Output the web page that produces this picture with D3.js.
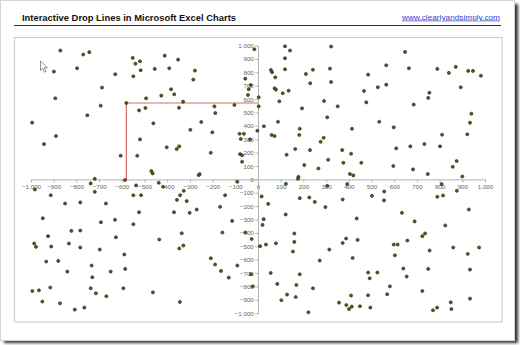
<!DOCTYPE html>
<html>
<head>
<meta charset="utf-8">
<script src="https://cdn.jsdelivr.net/npm/d3@7"></script>
<style>
  html, body { margin: 0; padding: 0; background: #fff; }
  svg { display: block; }
</style>
</head>
<body>
<svg id="chart" width="520" height="345"></svg>
<script>
// ---- text ----
const titleText = "Interactive Drop Lines in Microsoft Excel Charts";
const linkText = "www.clearlyandsimply.com";

// ---- axes ----
const axisMin = -1000;
const axisMax = 1000;
const tickValues = d3.range(-1000, 1001, 100);

// ---- scatter data [x, y] ----
const points = [
  // x < 0, y > 0
  [-871,963],[-770,933],[-743,951],[-552,908],[-540,865],[-520,883],[-797,831],[-899,806],
  [-629,786],[-549,771],[-517,816],[-687,686],[-893,606],[-693,551],[-580,571],[-524,516],
  [-752,479],[-995,424],[-890,324],[-943,264],[-520,299],[-605,177],[-532,177],[-719,4],
  [-411,925],[-352,895],[-455,826],[-391,831],[-278,813],[-285,746],[-383,674],[-369,636],
  [-426,626],[-493,606],[-330,581],[-496,534],[-348,536],[-192,546],[-188,496],[-104,556],
  [-461,419],[-250,429],[-298,371],[-201,352],[-81,341],[-62,341],[-76,302],[-3,364],
  [-402,240],[-358,227],[-347,247],[-208,199],[-79,189],[-70,180],[-70,132],[-470,62],
  [-464,45],[-261,32],[-257,40],[-16,973],[-56,753],[-41,674],[-32,706],[-44,631],[-35,299],
  // x > 0, y > 0
  [119,995],[322,993],[141,963],[119,906],[57,818],[62,801],[119,823],[211,788],
  [242,820],[317,828],[76,763],[230,719],[322,728],[485,783],[73,681],[79,671],
  [135,663],[109,644],[467,661],[528,689],[3,614],[94,584],[291,586],[477,576],
  [3,546],[194,531],[351,546],[305,464],[88,431],[26,397],[184,379],[414,379],
  [60,332],[73,324],[182,332],[289,311],[276,281],[164,227],[229,219],[371,219],
  [126,184],[410,192],[309,147],[376,124],[455,124],[204,107],[266,82],[405,40],
  [420,30],[178,19],[176,5],
  [648,953],[565,853],[665,831],[790,826],[871,841],[841,796],[926,811],[947,811],
  [982,775],[565,708],[893,689],[755,648],[750,609],[686,559],[940,491],[534,431],
  [934,424],[598,389],[811,334],[922,337],[609,232],[671,247],[733,264],[802,247],
  [596,100],[683,75],[748,40],[858,94],[875,137],[900,22],
  // x < 0, y < 0
  [-737,-30],[-586,-5],[-437,-25],[-91,-18],[-983,-75],[-913,-118],[-719,-93],[-537,-45],
  [-549,-118],[-515,-118],[-850,-180],[-783,-172],[-670,-180],[-524,-245],[-948,-290],[-692,-320],
  [-630,-302],[-549,-335],[-822,-385],[-783,-382],[-925,-424],[-626,-432],[-986,-479],[-978,-504],
  [-911,-502],[-833,-479],[-783,-509],[-697,-524],[-589,-561],[-933,-614],[-880,-609],[-733,-644],
  [-840,-689],[-649,-689],[-585,-669],[-730,-731],[-994,-834],[-965,-829],[-915,-808],[-737,-814],
  [-714,-851],[-668,-873],[-593,-814],[-950,-913],[-872,-926],[-807,-973],[-765,-958],
  [-418,-55],[-343,-118],[-327,-85],[-357,-153],[-314,-162],[-145,-118],[-370,-245],[-301,-250],
  [-270,-225],[-167,-205],[-114,-310],[-157,-397],[-336,-402],[-435,-449],[-329,-494],[-347,-516],
  [-56,-397],[-28,-445],[-208,-589],[-189,-636],[-163,-684],[-129,-734],[-91,-644],[-31,-709],
  [-23,-799],[-463,-844],[-344,-916],
  // x > 0, y < 0
  [123,-33],[393,-35],[305,-48],[16,-127],[45,-183],[184,-140],[226,-135],[250,-168],
  [373,-150],[297,-207],[502,-123],[122,-262],[25,-297],[20,-340],[435,-292],[160,-404],
  [160,-467],[79,-477],[35,-487],[9,-499],[388,-442],[373,-475],[439,-452],[154,-539],
  [314,-524],[272,-606],[417,-587],[56,-699],[184,-709],[485,-696],[492,-739],[526,-696],
  [85,-781],[169,-789],[242,-814],[128,-861],[166,-879],[410,-868],[485,-866],[103,-903],
  [357,-921],[389,-939],[413,-951],[401,-969],[449,-948],[495,-958],[222,-993],
  [809,-35],[556,-90],[555,-157],[790,-130],[815,-120],[876,-85],[634,-250],[929,-225],
  [690,-314],[825,-344],[736,-404],[724,-424],[658,-457],[598,-487],[615,-487],[756,-531],
  [860,-509],[974,-509],[924,-557],[603,-567],[640,-666],[750,-669],[934,-674],[655,-726],
  [581,-799],[569,-858],[724,-834],[934,-891],[849,-918],[852,-969],[771,-978],[789,-958]
];

// point whose drop lines are shown
const dropIndex = 14;

// ---- drawing ----
const svg = d3.select("#chart");
const defs = svg.append("defs");
defs.append("filter").attr("id", "pageShadow")
  .attr("x", "-5%").attr("y", "-5%").attr("width", "110%").attr("height", "110%")
  .append("feGaussianBlur").attr("stdDeviation", 1.6);

// page with drop shadow
svg.append("rect").attr("x", 4).attr("y", 4).attr("width", 514).attr("height", 339)
  .attr("fill", "#303030").attr("filter", "url(#pageShadow)");
svg.append("rect").attr("x", 0.5).attr("y", 0.5).attr("width", 514).attr("height", 340)
  .attr("fill", "#fff").attr("stroke", "#d4d4d4");

// header
svg.append("text").attr("x", 22).attr("y", 20.5)
  .attr("font-family", "Liberation Sans, Arial, sans-serif")
  .attr("font-weight", "bold").attr("font-size", 9.6)
  .attr("textLength", 214).attr("lengthAdjust", "spacingAndGlyphs")
  .attr("fill", "#111").text(titleText);

svg.append("text").attr("x", 402).attr("y", 19.5)
  .attr("font-family", "Liberation Sans, Arial, sans-serif")
  .attr("font-size", 7.6)
  .attr("textLength", 98).attr("lengthAdjust", "spacingAndGlyphs")
  .attr("fill", "#3344cc").attr("text-decoration", "underline").text(linkText);

svg.append("line").attr("x1", 14).attr("x2", 501).attr("y1", 25.5).attr("y2", 25.5)
  .attr("stroke", "#2e2e2e").attr("stroke-width", 1.1);

// chart area frame
svg.append("rect").attr("x", 14.5).attr("y", 37.5).attr("width", 487.5).attr("height", 284.5)
  .attr("fill", "#fff").attr("stroke", "#d0d0d0").attr("stroke-width", 1.2);

// scales
const x = d3.scaleLinear().domain([axisMin, axisMax]).range([31, 485]);
const y = d3.scaleLinear().domain([axisMin, axisMax]).range([313.2, 45.6]);
const fmt = d3.format(",");

const axisColor = "#b3b3b3";
const labelColor = "#666";

const gx = svg.append("g").attr("transform", `translate(0,${y(0)})`)
  .call(d3.axisBottom(x).tickValues(tickValues).tickFormat(fmt)
    .tickSize(3).tickSizeOuter(0).tickPadding(1.8));
const gy = svg.append("g").attr("transform", `translate(${x(0)},0)`)
  .call(d3.axisLeft(y).tickValues(tickValues).tickFormat(fmt)
    .tickSize(3).tickSizeOuter(0).tickPadding(1.2));

[gx, gy].forEach(g => {
  g.select(".domain").attr("stroke", axisColor).attr("stroke-width", 1);
  g.selectAll(".tick line").attr("stroke", axisColor);
  g.selectAll(".tick text").attr("fill", labelColor)
    .attr("font-family", "Liberation Sans Narrow, Liberation Sans, Arial, sans-serif")
    .attr("font-size", 6.2);
});

// drop lines from the highlighted point to both axes
const dp = points[dropIndex];
svg.append("path")
  .attr("d", `M${x(0)},${y(dp[1])}H${x(dp[0])}V${y(0)}`)
  .attr("fill", "none").attr("stroke", "#dc6a6a").attr("stroke-width", 1.2);

// markers
svg.append("g").selectAll("circle").data(points).join("circle")
  .attr("cx", d => x(d[0])).attr("cy", d => y(d[1])).attr("r", 1.55)
  .attr("fill", "#4d5e1c").attr("stroke", "#1f2808").attr("stroke-width", 0.6);

// mouse pointer
svg.append("path")
  .attr("d", "M40.5,60.8 L40.5,70.5 L42.8,68.4 L44.6,72.2 L46,71.5 L44.3,67.8 L47.4,67.8 Z")
  .attr("fill", "#fff").attr("stroke", "#777").attr("stroke-width", 0.8)
  .attr("stroke-linejoin", "round");
</script>
</body>
</html>
